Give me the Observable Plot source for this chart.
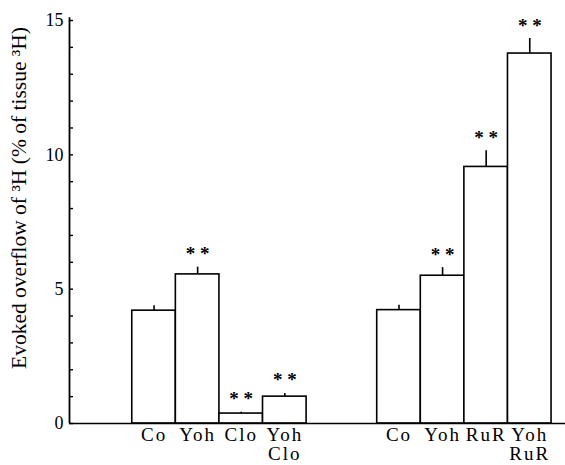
<!DOCTYPE html>
<html>
<head>
<meta charset="utf-8">
<script src="https://cdn.jsdelivr.net/npm/d3@7"></script>
<script src="https://cdn.jsdelivr.net/npm/@observablehq/plot@0.6"></script>
<style>
  html, body { margin: 0; padding: 0; background: #fff; }
  svg { font-family: "Liberation Serif", "DejaVu Serif", serif; }
</style>
</head>
<body>
<div id="chart"></div>
<script>
// Data
const categories = ["Co", "Yoh", "Clo", "Yoh\nClo", "Co", "Yoh", "RuR", "Yoh\nRuR"];
const groups     = [1, 1, 1, 1, 2, 2, 2, 2];
const values     = [4.2, 5.55, 0.37, 1.0, 4.22, 5.5, 9.55, 13.77];
const errors     = [0.18, 0.27, 0.05, 0.12, 0.18, 0.3, 0.6, 0.56];
const stars      = ["", "* *", "* *", "* *", "", "* *", "* *", "* *"];
const yTicks     = [0, 1, 2, 3, 4, 5, 6, 7, 8, 9, 10, 11, 12, 13, 14, 15];
const yLabels    = [0, 5, 10, 15];
const yLabel     = "Evoked overflow of \u00B3H (% of tissue \u00B3H)";

// layout: unit-wide bars, contiguous within a group, gap between groups
const groupGap = 1.62;
const xDomain = [-1.44, 9.94];
const rows = categories.map((c, i) => {
  const idx = groups[i] === 1 ? i : i + groupGap;
  return {cat: c, v: values[i], e: errors[i], s: stars[i], x1: idx, x2: idx + 1, xc: idx + 0.5};
});

const chart = Plot.plot({
  width: 565,
  height: 465,
  marginTop: 20,
  marginBottom: 42,
  marginLeft: 69,
  marginRight: 0,
  style: {fontFamily: "Liberation Serif, serif", fontSize: "17px", color: "black", background: "white"},
  x: {type: "linear", domain: xDomain, axis: null},
  y: {domain: [0, 15], axis: null},
  marks: [
    Plot.rectY(rows, {x1: "x1", x2: "x2", y: "v", fill: "white", stroke: "black", strokeWidth: 1.6}),
    Plot.ruleX(rows, {x: "xc", y1: "v", y2: d => d.v + d.e, stroke: "black", strokeWidth: 1.6}),
    Plot.text(rows, {x: "xc", y: d => d.v + d.e, text: "s", dy: -7, fontWeight: "bold", fontSize: 19, lineAnchor: "bottom"}),
    Plot.ruleY([0], {stroke: "black", strokeWidth: 1.6}),
    Plot.ruleX([xDomain[0]], {y1: 0, y2: 15.1, stroke: "black", strokeWidth: 1.8}),
    Plot.axisY({ticks: yTicks, tickSize: 4, dx: 4, tickFormat: () => "", label: null, strokeWidth: 1.4}),
    Plot.axisY({ticks: yLabels, tickSize: 0, tickPadding: 6, label: null, fontSize: 18}),
    Plot.text([yLabel], {frameAnchor: "left", textAnchor: "middle", rotate: -90, dx: -50, dy: -24, fontSize: 21.5}),
    Plot.text(rows, {x: "xc", y: 0, text: "cat", dy: 4, lineAnchor: "top", fontSize: 19, lineHeight: 1.0, ariaDescription: "category labels"})
  ]
});
d3.select(chart).selectAll("g[aria-description='category labels']").attr("letter-spacing", "2px");
document.getElementById("chart").appendChild(chart);
</script>
</body>
</html>
